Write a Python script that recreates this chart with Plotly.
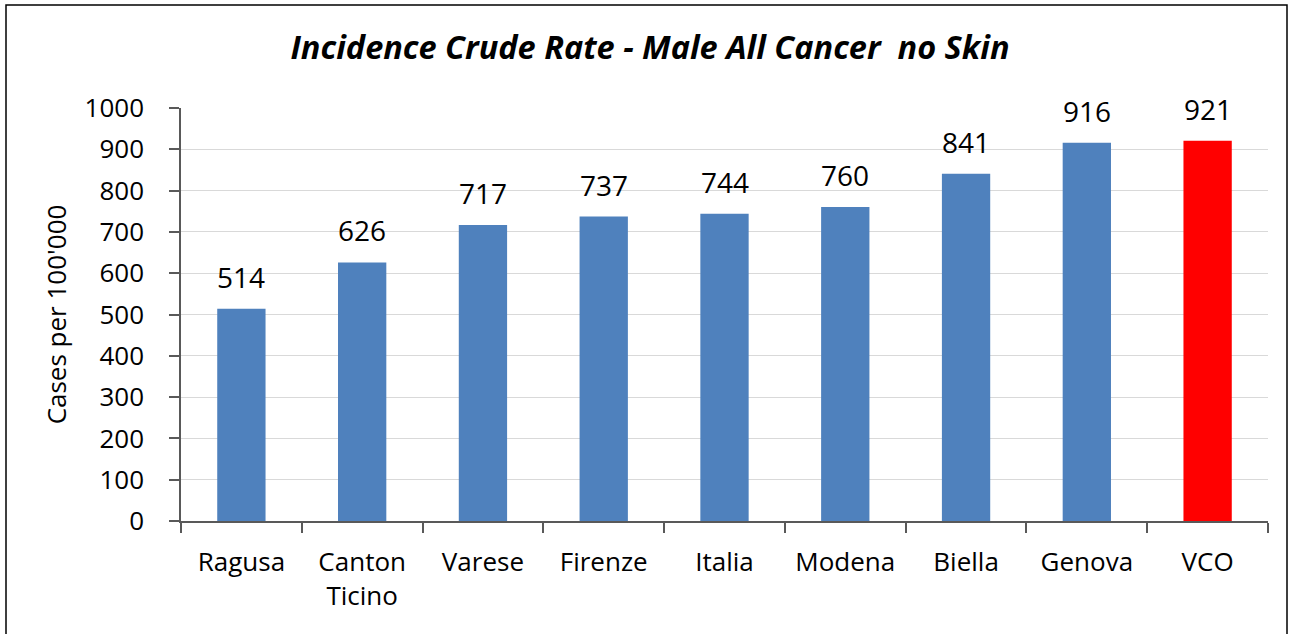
import plotly.graph_objects as go

categories = ["Ragusa", "Canton<br>Ticino", "Varese", "Firenze", "Italia", "Modena", "Biella", "Genova", "VCO"]
values = [514, 626, 717, 737, 744, 760, 841, 916, 921]
colors = ["#4F81BD"] * 8 + ["#FF0000"]
y_ticks = list(range(0, 1001, 100))

FONT = "Open Sans"
W, H = 1292, 634
L, R, T, B = 181, 24, 108, 113

fig = go.Figure()
fig.add_trace(go.Bar(x=categories, y=values, marker=dict(color=colors, line=dict(width=0)),
                     width=0.4, hoverinfo="x+y"))

for c, v in zip(categories, values):
    fig.add_annotation(x=c, y=v, text=str(v), showarrow=False, yanchor="bottom", yshift=11,
                       font=dict(family=FONT, size=28, color="#000000"))

pw = W - L - R
ph = H - T - B
fig.add_shape(type="rect", xref="paper", yref="paper",
              x0=(6 - L) / pw, x1=(1287 - L) / pw,
              y0=-(H + 20 - T - ph) / ph, y1=(H - 5 - B) / ph,
              line=dict(color="#000000", width=1.5), fillcolor="rgba(0,0,0,0)", layer="above")

fig.update_layout(
    width=W, height=H,
    margin=dict(l=L, r=R, t=T, b=B),
    paper_bgcolor="white", plot_bgcolor="white",
    showlegend=False,
    title=dict(text="<b><i>Incidence Crude Rate - Male All Cancer  no Skin</i></b>",
               x=(650) / W, xanchor="center", y=1 - 48 / H, yanchor="middle",
               font=dict(family=FONT, size=32.5, color="#000000")),
    bargap=0.6,
)
fig.update_xaxes(type="category", tickson="boundaries", ticks="outside", ticklen=10, tickwidth=1.5,
                 tickcolor="#595959", showline=True, linecolor="#595959", linewidth=1.5,
                 tickfont=dict(family=FONT, size=26, color="#000000"), ticklabelstandoff=17,
                 showgrid=False)
fig.update_yaxes(range=[0, 1000], tickvals=y_ticks, ticks="outside", ticklen=10, tickwidth=1.5,
                 tickcolor="#595959", showline=True, linecolor="#595959", linewidth=1.5,
                 gridcolor="#D9D9D9", gridwidth=1.2, zeroline=False,
                 tickfont=dict(family=FONT, size=26, color="#000000"), ticklabelstandoff=20,
                 title=dict(text="Cases per 100'000", font=dict(family=FONT, size=26, color="#000000"),
                            standoff=10))

fig.write_html("out.html", config={"displayModeBar": False},
               post_script="document.body.style.margin='0';document.body.style.padding='0';")
